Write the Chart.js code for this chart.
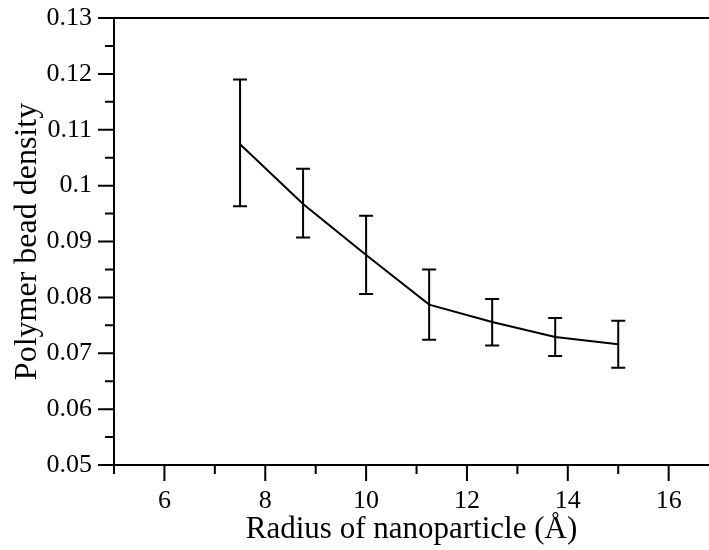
<!DOCTYPE html>
<html>
<head>
<meta charset="utf-8">
<script src="https://cdn.jsdelivr.net/npm/chart.js@4.4.1/dist/chart.umd.min.js"></script>
<style>
  html, body { margin: 0; padding: 0; background: #fff; }
</style>
</head>
<body>
<canvas id="densityChart" width="709" height="550"></canvas>
<script>
// values
const radius = [7.5, 8.75, 10, 11.25, 12.5, 13.75, 15];
const density = [0.1074, 0.0967, 0.0876, 0.0787, 0.0756, 0.0729, 0.0716];
const densityHigh = [0.1190, 0.1030, 0.0946, 0.0850, 0.0797, 0.0763, 0.0758];
const densityLow = [0.0963, 0.0907, 0.0806, 0.0724, 0.0714, 0.0695, 0.0674];

const xMajorTicks = [6, 8, 10, 12, 14, 16];
const xMinorTicks = [5, 7, 9, 11, 13, 15];
const yMajorTicks = [0.05, 0.06, 0.07, 0.08, 0.09, 0.1, 0.11, 0.12, 0.13];
const yTickLabels = ['0.05', '0.06', '0.07', '0.08', '0.09', '0.1', '0.11', '0.12', '0.13'];
const yMinorTicks = [0.055, 0.065, 0.075, 0.085, 0.095, 0.105, 0.115, 0.125];

const serif = "'Liberation Serif', 'Times New Roman', serif";

// axis frame + major/minor tick marks
const frameTicks = {
  id: 'frameTicks',
  afterDraw(chart) {
    const { ctx, chartArea: a, scales: { x, y } } = chart;
    ctx.save();
    ctx.strokeStyle = '#000';
    ctx.lineWidth = 2;
    ctx.beginPath();
    ctx.moveTo(a.left, a.top); ctx.lineTo(a.right, a.top);
    ctx.moveTo(a.left, a.top); ctx.lineTo(a.left, a.bottom);
    ctx.moveTo(a.left, a.bottom); ctx.lineTo(a.right, a.bottom);
    xMajorTicks.forEach(v => {
      const px = x.getPixelForValue(v);
      ctx.moveTo(px, a.bottom); ctx.lineTo(px, a.bottom + 16);
    });
    xMinorTicks.forEach(v => {
      const px = x.getPixelForValue(v);
      ctx.moveTo(px, a.bottom); ctx.lineTo(px, a.bottom + 9);
    });
    yMajorTicks.forEach(v => {
      const py = y.getPixelForValue(v);
      ctx.moveTo(a.left, py); ctx.lineTo(a.left - 16, py);
    });
    yMinorTicks.forEach(v => {
      const py = y.getPixelForValue(v);
      ctx.moveTo(a.left, py); ctx.lineTo(a.left - 9, py);
    });
    ctx.stroke();
    ctx.restore();
  }
};

// vertical error bars with caps
const errorBars = {
  id: 'errorBars',
  afterDatasetsDraw(chart) {
    const { ctx, scales: { x, y } } = chart;
    ctx.save();
    ctx.strokeStyle = '#000';
    ctx.lineWidth = 2;
    ctx.beginPath();
    radius.forEach((r, i) => {
      const px = x.getPixelForValue(r);
      const top = y.getPixelForValue(densityHigh[i]);
      const bottom = y.getPixelForValue(densityLow[i]);
      ctx.moveTo(px, top); ctx.lineTo(px, bottom);
      ctx.moveTo(px - 7, top); ctx.lineTo(px + 7, top);
      ctx.moveTo(px - 7, bottom); ctx.lineTo(px + 7, bottom);
    });
    ctx.stroke();
    ctx.restore();
  }
};

const ctx = document.getElementById('densityChart').getContext('2d');

new Chart(ctx, {
  type: 'line',
  data: {
    datasets: [{
      data: radius.map((r, i) => ({ x: r, y: density[i] })),
      borderColor: '#000',
      borderWidth: 2,
      pointRadius: 0,
      tension: 0,
      fill: false
    }]
  },
  options: {
    responsive: false,
    animation: false,
    layout: { padding: 0 },
    plugins: {
      legend: { display: false },
      tooltip: { enabled: false }
    },
    scales: {
      x: {
        type: 'linear',
        min: 5,
        max: 16.8,
        grid: { display: false, drawTicks: false },
        border: { display: false },
        afterBuildTicks: scale => { scale.ticks = xMajorTicks.map(v => ({ value: v })); },
        afterFit: scale => { scale.height = 85; },
        ticks: {
          autoSkip: false,
          maxRotation: 0,
          padding: 21,
          color: '#000',
          font: { family: serif, size: 26 },
          callback: v => String(v)
        },
        title: {
          display: true,
          text: 'Radius of nanoparticle (Å)',
          color: '#000',
          font: { family: serif, size: 31 },
          padding: { top: 0, bottom: 2 }
        }
      },
      y: {
        min: 0.05,
        max: 0.13,
        grid: { display: false, drawTicks: false },
        border: { display: false },
        afterBuildTicks: scale => { scale.ticks = yMajorTicks.map(v => ({ value: v })); },
        afterFit: scale => {
          scale.width = 114;
          scale.paddingTop = 18;
          scale.paddingBottom = 0;
        },
        ticks: {
          autoSkip: false,
          padding: 22,
          color: '#000',
          font: { family: serif, size: 26 },
          callback: (v, i) => yTickLabels[i]
        },
        title: {
          display: true,
          text: 'Polymer bead density',
          color: '#000',
          font: { family: serif, size: 32 },
          padding: { top: 8, bottom: 0 }
        }
      }
    }
  },
  plugins: [frameTicks, errorBars]
});
</script>
</body>
</html>
